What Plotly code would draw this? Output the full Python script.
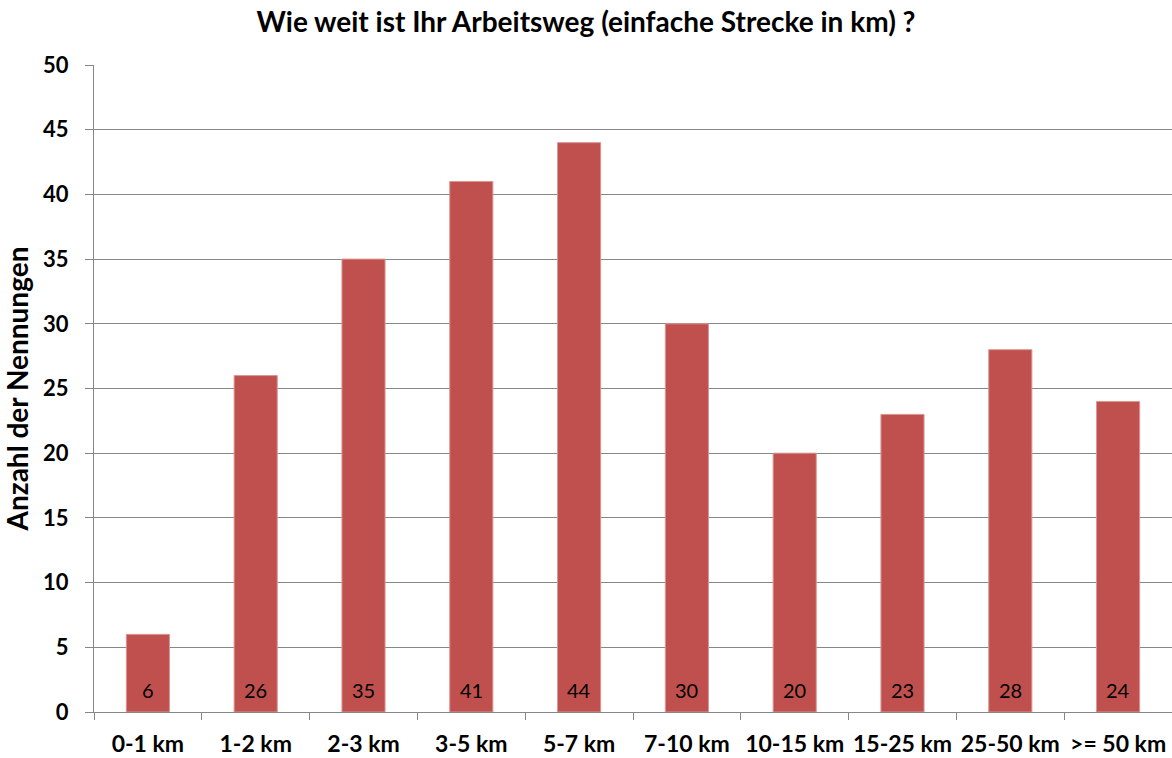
import plotly.graph_objects as go

# Survey: one-way commute distance
categories = ["0-1 km", "1-2 km", "2-3 km", "3-5 km", "5-7 km",
              "7-10 km", "10-15 km", "15-25 km", "25-50 km", ">= 50 km"]
counts = [6, 26, 35, 41, 44, 30, 20, 23, 28, 24]

title_text = "Wie weit ist Ihr Arbeitsweg (einfache Strecke in km) ?"
y_title = "Anzahl der Nennungen"

FONT = "Lato"
BAR_COLOR = "#C0504D"
GRID = "#878787"

fig = go.Figure(
    go.Bar(
        x=categories,
        y=counts,
        marker=dict(color=BAR_COLOR, line=dict(color="#D99694", width=1)),
        hoverinfo="x+y",
    )
)

# value labels sitting near the foot of each bar
for cat, v in zip(categories, counts):
    fig.add_annotation(
        x=cat, y=0, xref="x", yref="y",
        text=str(v), showarrow=False,
        yanchor="bottom", yshift=8,
        font=dict(family=FONT, size=20, color="black"),
    )

fig.update_layout(
    width=1172,
    height=758,
    margin=dict(l=94, r=0, t=65, b=46),
    paper_bgcolor="white",
    plot_bgcolor="white",
    bargap=0.6,
    showlegend=False,
    title=dict(
        text="<b>" + title_text + "</b>",
        x=0.5, xref="container", xanchor="center",
        y=1 - 22 / 758, yref="container", yanchor="middle",
        font=dict(family=FONT, size=28, color="black"),
    ),
    font=dict(family=FONT, color="black"),
)

fig.update_xaxes(
    type="category",
    automargin=False,
    tickangle=0,
    showline=True, linecolor=GRID, linewidth=1,
    ticks="outside", tickson="boundaries", ticklen=7, tickcolor=GRID,
    tickfont=dict(family=FONT, size=23, color="black", weight="bold"),
    showgrid=False,
    ticklabelstandoff=11,
)

fig.update_yaxes(
    range=[0, 50], dtick=5,
    automargin=False,
    showline=True, linecolor=GRID, linewidth=1,
    ticks="outside", ticklen=8, tickcolor=GRID,
    showgrid=True, gridcolor=GRID, gridwidth=1,
    zeroline=False,
    tickfont=dict(family=FONT, size=22, color="black", weight="bold"),
    ticklabelstandoff=12,
    title=dict(text="<b>" + y_title + "</b>", font=dict(family=FONT, size=28, color="black"), standoff=16),
)

fig.write_html("out.html")
